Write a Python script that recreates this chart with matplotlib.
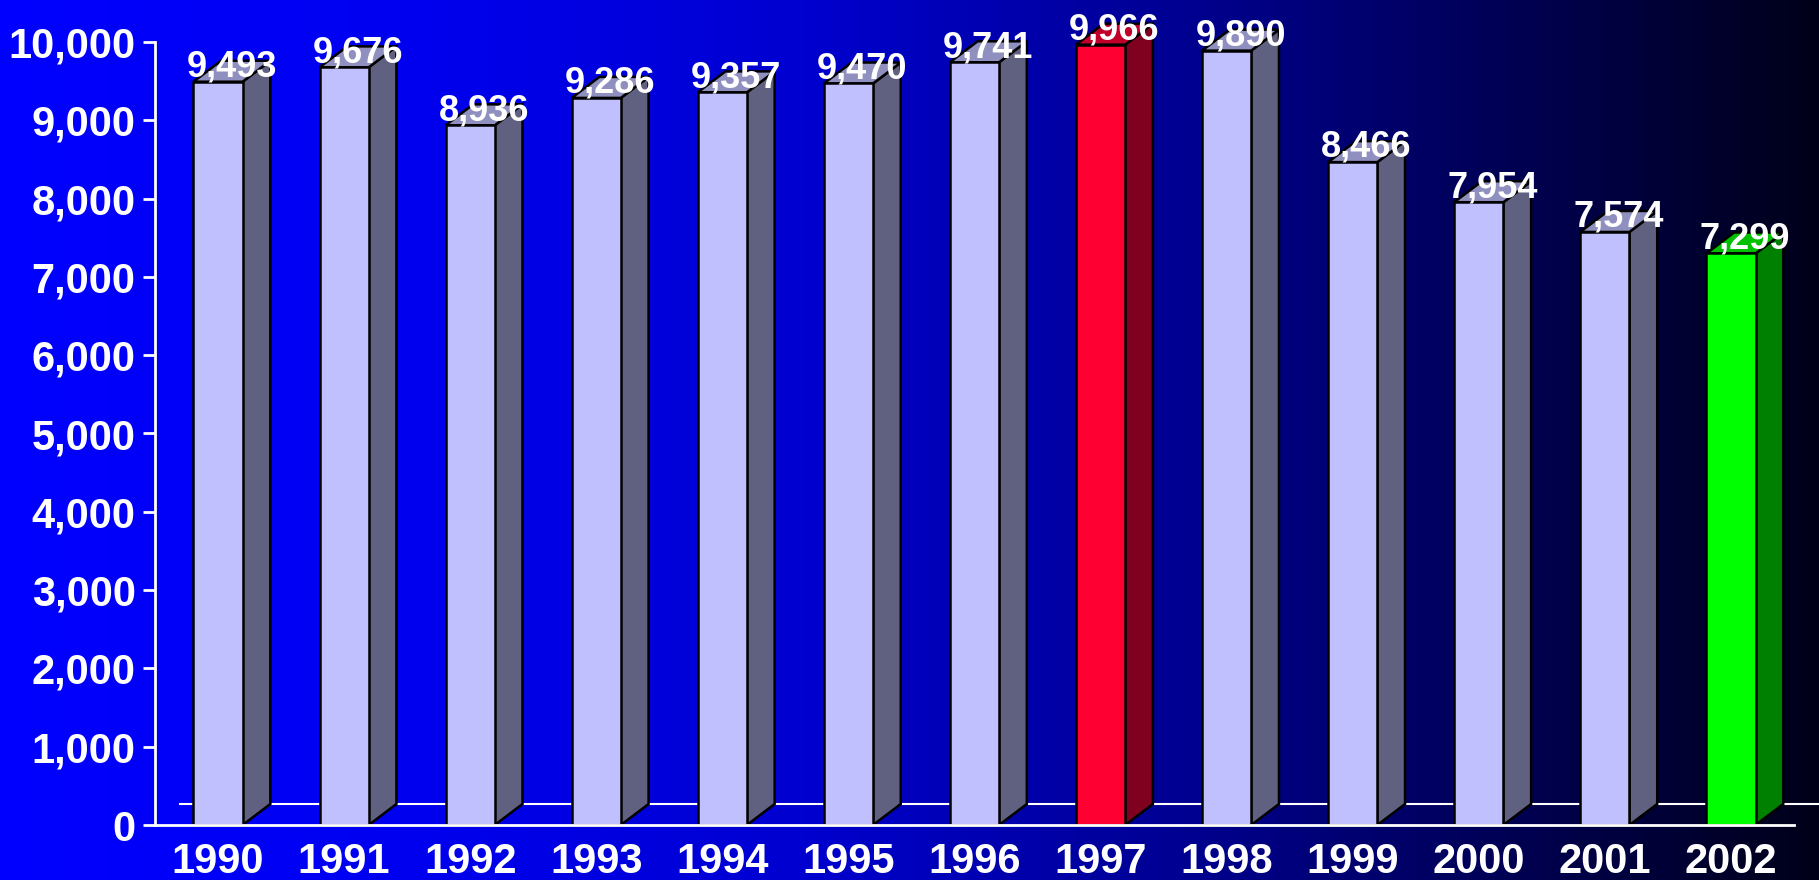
import numpy as np
import matplotlib
matplotlib.use("Agg")
import matplotlib.pyplot as plt
from matplotlib.patches import Polygon

# dados do gráfico
years = ["1990", "1991", "1992", "1993", "1994", "1995", "1996",
         "1997", "1998", "1999", "2000", "2001", "2002"]
values = [9493, 9676, 8936, 9286, 9357, 9470, 9741,
          9966, 9890, 8466, 7954, 7574, 7299]
highlight = {"1997": "red", "2002": "green"}

# cores das faces (frente, lado, topo)
palette = {
    "normal": ("#C0C0FF", "#606080", "#9090C0"),
    "red": ("#FF0033", "#800020", "#C00028"),
    "green": ("#00FF00", "#008000", "#00C000"),
}

W, H = 1819, 880
fig = plt.figure(figsize=(W / 100, H / 100), dpi=100)
plt.rcParams['font.family'] = ['Liberation Sans', 'DejaVu Sans']

# fundo em degradê azul -> preto
bg = fig.add_axes([0, 0, 1, 1])
xs = np.linspace(0, W, 400)
blue = np.interp(xs, [0, 400, 800, 1190, 1570, 1819], [255, 240, 208, 144, 72, 25]) / 255
grad = np.zeros((1, len(xs), 3))
grad[0, :, 2] = blue
bg.imshow(grad, aspect="auto", extent=[0, 1, 0, 1])
bg.set_axis_off()

ax = fig.add_axes([155 / W, 55 / H, 1639 / W, 783 / H])
ax.set_facecolor("none")
ax.set_xlim(-0.5, len(years) - 0.5)
ax.set_ylim(0, 10000)

bw = 0.39      # largura da barra
dx = 0.22      # profundidade em x
dy = 268       # profundidade em y (unidades de dados)

# linha do "chão" ao fundo
ax.plot([-0.3, 13.5], [dy, dy], color="white", lw=1.5, clip_on=False, zorder=1)

for i, (yr, v) in enumerate(zip(years, values)):
    front, side, top = palette[highlight.get(yr, "normal")]
    x0, x1 = i - bw / 2, i + bw / 2
    ax.add_patch(Polygon([(x1, 0), (x1 + dx, dy), (x1 + dx, v + dy), (x1, v)],
                         facecolor=side, edgecolor="black", lw=1.8, zorder=3, clip_on=False))
    ax.add_patch(Polygon([(x0, v), (x1, v), (x1 + dx, v + dy), (x0 + dx, v + dy)],
                         facecolor=top, edgecolor="black", lw=1.8, zorder=3, clip_on=False))
    ax.add_patch(Polygon([(x0, 0), (x1, 0), (x1, v), (x0, v)],
                         facecolor=front, edgecolor="black", lw=1.8, zorder=4, clip_on=False))
    ax.text(i + dx / 2, v + dy * 0.7, f"{v:,}", ha="center", va="center",
            color="white", fontsize=26, fontweight="bold", zorder=6, clip_on=False)

for s in ["top", "right"]:
    ax.spines[s].set_visible(False)
for s in ["left", "bottom"]:
    ax.spines[s].set_color("white")
    ax.spines[s].set_linewidth(2)
ax.spines["bottom"].set_zorder(5)

ax.set_yticks(range(0, 10001, 1000))
ax.set_yticklabels([f"{t:,}" for t in range(0, 10001, 1000)])
ax.set_xticks(range(len(years)))
ax.set_xticklabels(years)
ax.tick_params(axis="y", colors="white", length=9, width=2, pad=5, labelsize=30)
ax.tick_params(axis="x", colors="white", length=0, pad=12, labelsize=30)
for lab in ax.get_xticklabels() + ax.get_yticklabels():
    lab.set_fontweight("bold")

fig.savefig("out.png", dpi=100)
